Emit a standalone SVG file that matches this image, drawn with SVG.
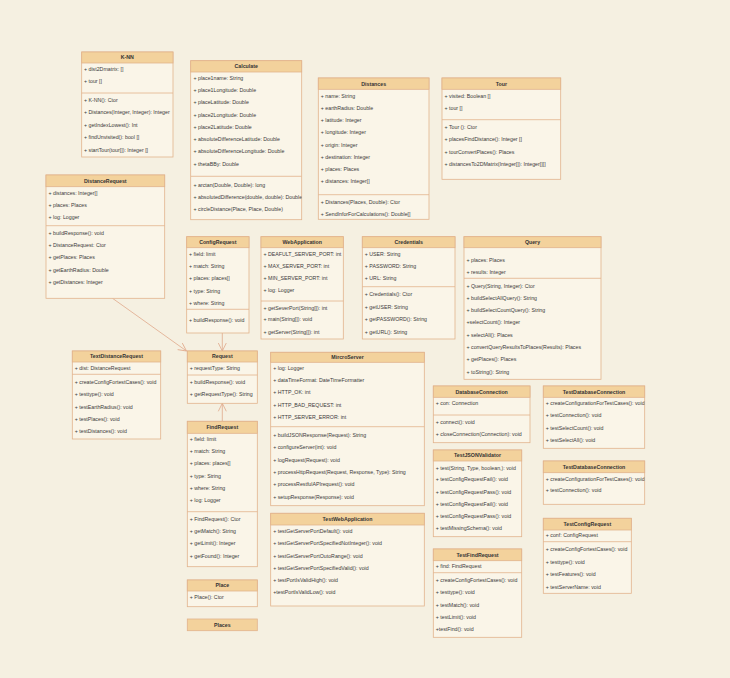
<svg xmlns="http://www.w3.org/2000/svg" width="730" height="678" viewBox="0 0 730 678">
<style>
.bg{fill:#f5f0e1}
.bx{fill:#faf5e8;stroke:#e2b38c;stroke-width:0.8}
.hd{fill:#f3d29c;stroke:#e2b38c;stroke-width:0.8}
.sp{stroke:#e2b38c;stroke-width:0.8}
text{font-family:"Liberation Sans",Arial,sans-serif;font-size:5.25px;fill:#3a3a3a}
.h{font-weight:bold;text-anchor:middle;fill:#333}
.cn{fill:none;stroke:#e0a88a;stroke-width:0.8}
</style>
<defs>
<marker id="oa" markerWidth="10" markerHeight="10" refX="9" refY="5" orient="auto" markerUnits="userSpaceOnUse">
<path d="M1,1 L9,5 L1,9" fill="none" stroke="#e0a88a" stroke-width="0.8"/>
</marker>
<clipPath id="cCalc"><rect x="190.7" y="60" width="111" height="160"/></clipPath>
<clipPath id="cTdc1"><rect x="543.3" y="386" width="101.4" height="63"/></clipPath>
<clipPath id="cTdc2"><rect x="543.3" y="461" width="101.4" height="44"/></clipPath>
</defs>
<rect class="bg" x="0" y="0" width="730" height="678"/>

<g id="connectors">
<line class="cn" x1="112.5" y1="298.3" x2="186.5" y2="351" marker-end="url(#oa)"/>
<line class="cn" x1="222.3" y1="333" x2="222.3" y2="351" marker-end="url(#oa)"/>
<line class="cn" x1="222.3" y1="421.3" x2="222.3" y2="403.3" marker-end="url(#oa)"/>
</g>

<g id="knn">
<rect class="bx" x="81.7" y="52" width="91.3" height="105"/>
<rect class="hd" x="81.7" y="52" width="91.3" height="11"/>
<text class="h" x="127.3" y="59.3">K-NN</text>
<text x="84" y="70.5">+ dist2Dmatrix: []</text>
<text x="84" y="82.5">+ tour []</text>
<line class="sp" x1="81.7" y1="93" x2="173" y2="93"/>
<text x="84" y="101.8">+ K-NN(): Ctor</text>
<text x="84" y="114.3">+ Distances(Integer, Integer): Integer</text>
<text x="84" y="126.8">+ getIndexLowest(): Int</text>
<text x="84" y="139.3">+ findUnvisited(): bool []</text>
<text x="84" y="151.8">+ startTour(tour[]): Integer []</text>
</g>

<g id="calculate">
<rect class="bx" x="190.7" y="60.7" width="111" height="159"/>
<rect class="hd" x="190.7" y="60.7" width="111" height="11.3"/>
<text class="h" x="246.2" y="68.1">Calculate</text>
<g clip-path="url(#cCalc)">
<text x="193.5" y="79.8">+ place1name: String</text>
<text x="193.5" y="92.1">+ place1Longitude: Double</text>
<text x="193.5" y="104.3">+ placeLatitude: Double</text>
<text x="193.5" y="116.5">+ place2Longitude: Double</text>
<text x="193.5" y="128.8">+ place2Latitude: Double</text>
<text x="193.5" y="140.8">+ absoluteDifferenceLatitude: Double</text>
<text x="193.5" y="153.1">+ absoluteDifferenceLongitude: Double</text>
<text x="193.5" y="165.8">+ thetaBBy: Double</text>
<line class="sp" x1="190.7" y1="176.3" x2="301.7" y2="176.3"/>
<text x="193.5" y="186.5">+ arctan(Double, Double): long</text>
<text x="193.5" y="198.8">+ absolutedDifference(double, double): Double</text>
<text x="193.5" y="211.3">+ circleDistance(Place, Place, Double)</text>
</g>
</g>

<g id="distances">
<rect class="bx" x="318.3" y="78" width="110.7" height="141.3"/>
<rect class="hd" x="318.3" y="78" width="110.7" height="11.3"/>
<text class="h" x="373.7" y="85.5">Distances</text>
<text x="320.8" y="97.8">+ name: String</text>
<text x="320.8" y="109.8">+ earthRadius: Double</text>
<text x="320.8" y="122.1">+ latitude: Integer</text>
<text x="320.8" y="134.3">+ longitude: Integer</text>
<text x="320.8" y="146.5">+ origin: Integer</text>
<text x="320.8" y="158.8">+ destination: Integer</text>
<text x="320.8" y="171.1">+ places: Places</text>
<text x="320.8" y="183.3">+ distances: Integer[]</text>
<line class="sp" x1="318.3" y1="194.7" x2="429" y2="194.7"/>
<text x="320.8" y="203.8">+ Distances(Places, Double): Ctor</text>
<text x="320.8" y="216.1">+ SendInforForCalculations(): Double[]</text>
</g>

<g id="tour">
<rect class="bx" x="442" y="78" width="118.7" height="101.3"/>
<rect class="hd" x="442" y="78" width="118.7" height="11.3"/>
<text class="h" x="501.3" y="85.5">Tour</text>
<text x="444.5" y="97.8">+ visited:  Boolean []</text>
<text x="444.5" y="109.8">+ tour []</text>
<line class="sp" x1="442" y1="119.7" x2="560.7" y2="119.7"/>
<text x="444.5" y="128.8">+ Tour (): Ctor</text>
<text x="444.5" y="141.3">+ placesFindDistance(): Integer []</text>
<text x="444.5" y="153.8">+ tourConvertPlaces(): Places</text>
<text x="444.5" y="165.8">+ distancesTo2DMatrix(Integer[]): Integer[][]</text>
</g>

<g id="distancerequest">
<rect class="bx" x="46" y="175" width="118.7" height="123.3"/>
<rect class="hd" x="46" y="175" width="118.7" height="11.7"/>
<text class="h" x="105.3" y="182.7">DistanceRequest</text>
<text x="48.5" y="194.5">+ distances:  Integer[]</text>
<text x="48.5" y="206.8">+ places: Places</text>
<text x="48.5" y="219.1">+ log: Logger</text>
<line class="sp" x1="46" y1="225.7" x2="164.7" y2="225.7"/>
<text x="48.5" y="234.5">+ buildResponse(): void</text>
<text x="48.5" y="246.8">+ DistanceRequest: Ctor</text>
<text x="48.5" y="259.1">+ getPlaces: Places</text>
<text x="48.5" y="271.5">+ getEarthRadius: Double</text>
<text x="48.5" y="283.8">+ getDistances: Integer</text>
</g>

<g id="configrequest">
<rect class="bx" x="186.7" y="236.7" width="62.3" height="96.3"/>
<rect class="hd" x="186.7" y="236.7" width="62.3" height="11"/>
<text class="h" x="217.8" y="244">ConfigRequest</text>
<text x="189" y="255.8">+ field: limit</text>
<text x="189" y="268.1">+ match: String</text>
<text x="189" y="280.3">+ places: places[]</text>
<text x="189" y="292.5">+ type: String</text>
<text x="189" y="304.8">+ where: String</text>
<line class="sp" x1="186.7" y1="309.3" x2="249" y2="309.3"/>
<text x="189" y="321.8">+ buildResponse(): void</text>
</g>

<g id="webapplication">
<rect class="bx" x="261" y="236.7" width="82.3" height="102.3"/>
<rect class="hd" x="261" y="236.7" width="82.3" height="11"/>
<text class="h" x="302.2" y="244">WebApplication</text>
<text x="263.5" y="255.8">+ DEAFULT_SERVER_PORT: int</text>
<text x="263.5" y="267.8">+ MAX_SERVER_PORT: int</text>
<text x="263.5" y="279.8">+ MIN_SERVER_PORT: int</text>
<text x="263.5" y="292.3">+ log: Logger</text>
<line class="sp" x1="261" y1="301" x2="343.3" y2="301"/>
<text x="263.5" y="309.5">+ getSeverPort(String[]): int</text>
<text x="263.5" y="321.3">+ main(String[]): void</text>
<text x="263.5" y="333.5">+ getServer(String[]): int</text>
</g>

<g id="credentials">
<rect class="bx" x="362.3" y="236.7" width="92.7" height="102.3"/>
<rect class="hd" x="362.3" y="236.7" width="92.7" height="11"/>
<text class="h" x="408.7" y="244">Credentials</text>
<text x="364.8" y="255.8">+ USER: String</text>
<text x="364.8" y="267.8">+ PASSWORD: String</text>
<text x="364.8" y="280.1">+ URL: String</text>
<line class="sp" x1="362.3" y1="286.7" x2="455" y2="286.7"/>
<text x="364.8" y="296.1">+ Credentials(): Ctor</text>
<text x="364.8" y="308.5">+ getUSER: String</text>
<text x="364.8" y="321.1">+ getPASSWORD(): String</text>
<text x="364.8" y="333.5">+ getURL(): String</text>
</g>

<g id="query">
<rect class="bx" x="464" y="236.7" width="137" height="142.6"/>
<rect class="hd" x="464" y="236.7" width="137" height="11"/>
<text class="h" x="532.5" y="244">Query</text>
<text x="466.5" y="261.8">+ places: Places</text>
<text x="466.5" y="274.1">+ results: Integer</text>
<line class="sp" x1="464" y1="278.3" x2="601" y2="278.3"/>
<text x="466.5" y="287.5">+ Query(String, Integer): Ctor</text>
<text x="466.5" y="299.5">+ buildSelectAllQuery(): String</text>
<text x="466.5" y="311.8">+ buildSelectCountQuery(): String</text>
<text x="466.5" y="324.3">+selectCount(): Integer</text>
<text x="466.5" y="336.8">+ selectAll(): Places</text>
<text x="466.5" y="349.1">+ convertQueryResultsToPlaces(Results): Places</text>
<text x="466.5" y="361.3">+ getPlaces(): Places</text>
<text x="466.5" y="373.5">+ toString(): String</text>
</g>

<g id="textdistancerequest">
<rect class="bx" x="72.3" y="351" width="88.4" height="88"/>
<rect class="hd" x="72.3" y="351" width="88.4" height="11"/>
<text class="h" x="116.5" y="358.3">TextDistanceRequest</text>
<text x="74.8" y="370.1">+ dist: DistanceRequest</text>
<line class="sp" x1="72.3" y1="374.3" x2="160.7" y2="374.3"/>
<text x="74.8" y="384.1">+ createConfigFortestCases(): void</text>
<text x="74.8" y="396.1">+ testtype(): void</text>
<text x="74.8" y="408.5">+ testEarthRadius(): void</text>
<text x="74.8" y="420.8">+ testPlaces(): void</text>
<text x="74.8" y="433.3">+ testDistances(): void</text>
</g>

<g id="request">
<rect class="bx" x="187.3" y="351" width="70" height="52.3"/>
<rect class="hd" x="187.3" y="351" width="70" height="11"/>
<text class="h" x="222.3" y="358.3">Request</text>
<text x="189.8" y="370.1">+ requestType: String</text>
<line class="sp" x1="187.3" y1="375" x2="257.3" y2="375"/>
<text x="189.8" y="384.1">+ buildResponse(): void</text>
<text x="189.8" y="396.1">+ getRequestType(): String</text>
</g>

<g id="findrequest">
<rect class="bx" x="187.3" y="421.3" width="70" height="145.4"/>
<rect class="hd" x="187.3" y="421.3" width="70" height="12"/>
<text class="h" x="222.3" y="429.1">FindRequest</text>
<text x="189.8" y="440.8">+ field: limit</text>
<text x="189.8" y="452.8">+ match: String</text>
<text x="189.8" y="465.1">+ places: places[]</text>
<text x="189.8" y="477.5">+ type: String</text>
<text x="189.8" y="489.5">+ where: String</text>
<text x="189.8" y="501.8">+ log: Logger</text>
<line class="sp" x1="187.3" y1="511.7" x2="257.3" y2="511.7"/>
<text x="189.8" y="520.8">+ FindRequest(): Ctor</text>
<text x="189.8" y="532.8">+ getMatch(): String</text>
<text x="189.8" y="545.1">+ getLimit(): Integer</text>
<text x="189.8" y="557.5">+ getFound(): Integer</text>
</g>

<g id="place">
<rect class="bx" x="187.3" y="580" width="70" height="26.7"/>
<rect class="hd" x="187.3" y="580" width="70" height="11"/>
<text class="h" x="222.3" y="587.3">Place</text>
<text x="189.8" y="598.8">+ Place(): Ctor</text>
</g>

<g id="places">
<rect class="hd" x="187.3" y="619" width="70" height="11.7"/>
<text class="h" x="222.3" y="626.6">Places</text>
</g>

<g id="microserver">
<rect class="bx" x="270.7" y="352.3" width="153.6" height="153.4"/>
<rect class="hd" x="270.7" y="352.3" width="153.6" height="10"/>
<text class="h" x="347.5" y="359.1">MircroServer</text>
<text x="273.2" y="370.1">+ log: Logger</text>
<text x="273.2" y="381.8">+ dataTimeFormat: DateTimeFormatter</text>
<text x="273.2" y="394.1">+ HTTP_OK: int</text>
<text x="273.2" y="406.5">+ HTTP_BAD_REQUEST: int</text>
<text x="273.2" y="418.5">+ HTTP_SERVER_ERROR: int</text>
<line class="sp" x1="270.7" y1="426.7" x2="424.3" y2="426.7"/>
<text x="273.2" y="436.8">+ buildJSONResponse(Request): String</text>
<text x="273.2" y="449.1">+ configureServer(int): void</text>
<text x="273.2" y="461.5">+ logRequest(Request): void</text>
<text x="273.2" y="473.8">+ processHttpRequest(Request, Response, Type): String</text>
<text x="273.2" y="486.1">+ processRestfulAPIrequest(): void</text>
<text x="273.2" y="498.5">+ setupResponse(Response): void</text>
</g>

<g id="testwebapplication">
<rect class="bx" x="270.7" y="513.3" width="153.6" height="92.7"/>
<rect class="hd" x="270.7" y="513.3" width="153.6" height="11.7"/>
<text class="h" x="347.5" y="521">TestWebApplication</text>
<text x="273.2" y="532.8">+ testGetServerPortDefault(): void</text>
<text x="273.2" y="545.3">+ testGetServerPortSpecifiedNotInteger(): void</text>
<text x="273.2" y="557.5">+ testGetServerPortOutoRange(): void</text>
<text x="273.2" y="569.8">+ testGetServerPortSpecifiedValid(): void</text>
<text x="273.2" y="582.1">+ testPortIsValidHigh(): void</text>
<text x="273.2" y="594.3">+testPortIsValidLow(): void</text>
</g>

<g id="databaseconnection">
<rect class="bx" x="433.3" y="386" width="96.7" height="56.7"/>
<rect class="hd" x="433.3" y="386" width="96.7" height="11.3"/>
<text class="h" x="481.7" y="393.5">DatabaseConnection</text>
<text x="435.8" y="405.1">+ con: Connection</text>
<line class="sp" x1="433.3" y1="415" x2="530" y2="415"/>
<text x="435.8" y="424.1">+ connect(): void</text>
<text x="435.8" y="435.8">+ closeConnection(Connection): void</text>
</g>

<g id="testdatabaseconnection1">
<rect class="bx" x="543.3" y="386" width="101.4" height="62.3"/>
<rect class="hd" x="543.3" y="386" width="101.4" height="11.3"/>
<text class="h" x="594" y="393.5">TestDatabaseConnection</text>
<g clip-path="url(#cTdc1)">
<text x="545.8" y="405.1">+ createConfigurationForTestCases(): void</text>
<text x="545.8" y="416.8">+ testConnection(): void</text>
<text x="545.8" y="429.5">+ testSelectCount(): void</text>
<text x="545.8" y="441.8">+ testSelectAll(): void</text>
</g>
</g>

<g id="testjsonvalidator">
<rect class="bx" x="433.3" y="450" width="88.4" height="86.7"/>
<rect class="hd" x="433.3" y="450" width="88.4" height="11"/>
<text class="h" x="477.5" y="457.3">TestJSONValidator</text>
<text x="435.8" y="469.5">+ test(String, Type, boolean,): void</text>
<text x="435.8" y="481.3">+ testConfigRequestFail(): void</text>
<text x="435.8" y="493.5">+ testConfigRequestPass(): void</text>
<text x="435.8" y="505.8">+ testConfigRequestFail(): void</text>
<text x="435.8" y="517.8">+ testConfigRequestPass(): void</text>
<text x="435.8" y="530.3">+ testMissingSchema(): void</text>
</g>

<g id="testdatabaseconnection2">
<rect class="bx" x="543.3" y="461" width="101.4" height="43.3"/>
<rect class="hd" x="543.3" y="461" width="101.4" height="11.7"/>
<text class="h" x="594" y="468.7">TestDatabaseConnection</text>
<g clip-path="url(#cTdc2)">
<text x="545.8" y="480.5">+ createConfigurationForTestCases(): void</text>
<text x="545.8" y="491.8">+ testConnection(): void</text>
</g>
</g>

<g id="testconfigrequest">
<rect class="bx" x="543.3" y="518.3" width="88" height="75"/>
<rect class="hd" x="543.3" y="518.3" width="88" height="11.7"/>
<text class="h" x="587.3" y="526">TestConfigRequest</text>
<text x="545.8" y="537.1">+ conf: ConfigRequest</text>
<line class="sp" x1="543.3" y1="541.7" x2="631.3" y2="541.7"/>
<text x="545.8" y="551.1">+ createConfigFortestCases(): void</text>
<text x="545.8" y="563.8">+ testtype(): void</text>
<text x="545.8" y="575.8">+ testFeatures(): void</text>
<text x="545.8" y="588.5">+ testServerName: void</text>
</g>

<g id="testfindrequest">
<rect class="bx" x="433.3" y="549" width="88.4" height="88.3"/>
<rect class="hd" x="433.3" y="549" width="88.4" height="11.7"/>
<text class="h" x="477.5" y="556.7">TestFindRequest</text>
<text x="435.8" y="567.8">+ find: FindRequest</text>
<line class="sp" x1="433.3" y1="572.7" x2="521.7" y2="572.7"/>
<text x="435.8" y="581.8">+ createConfigFortestCases(): void</text>
<text x="435.8" y="594.1">+ testtype(): void</text>
<text x="435.8" y="606.8">+ testMatch(): void</text>
<text x="435.8" y="619.1">+ testLimit(): void</text>
<text x="435.8" y="631.1">+testFind(): void</text>
</g>
</svg>
